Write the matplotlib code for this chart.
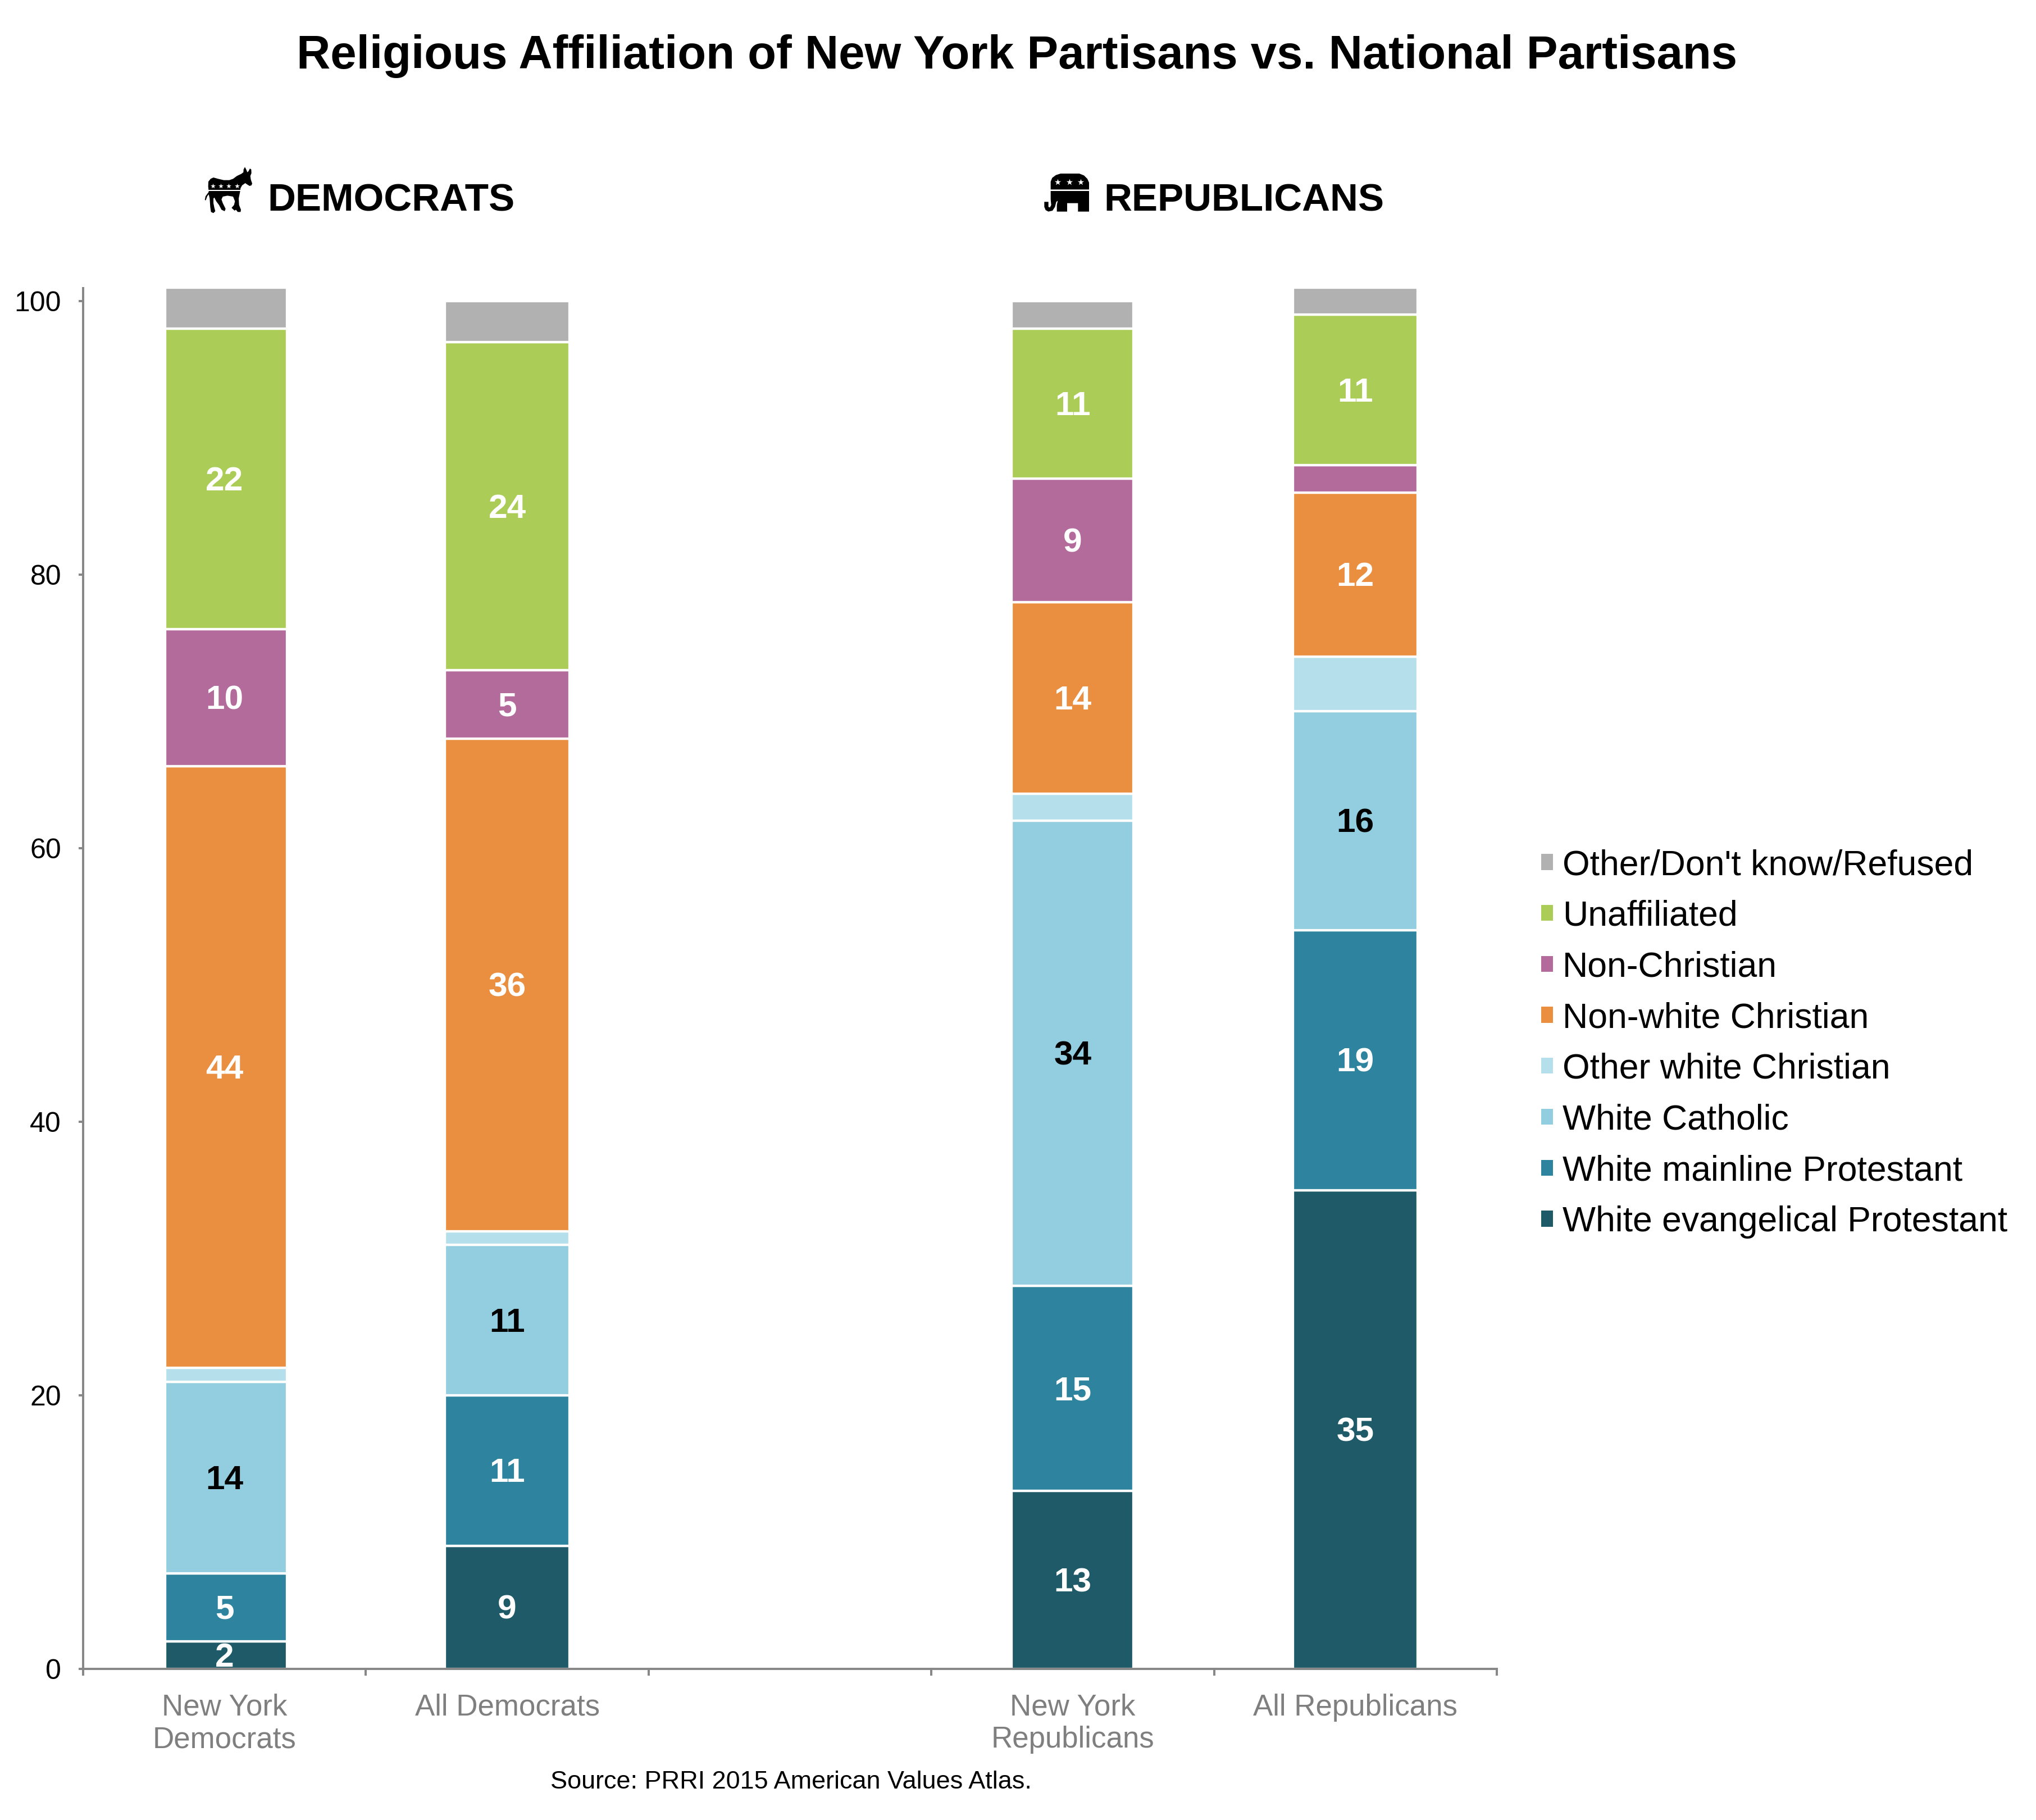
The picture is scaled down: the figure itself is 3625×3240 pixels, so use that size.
import numpy as np
import matplotlib
matplotlib.use('Agg')
import matplotlib.pyplot as plt
from matplotlib.patches import Patch, Polygon

W, H = 3625, 3240
DPI = 300

plt.rcParams['font.family'] = ['Liberation Sans', 'DejaVu Sans']

categories = ['New York\nDemocrats', 'All Democrats', '', 'New York\nRepublicans', 'All Republicans']
series_names = ['White evangelical Protestant', 'White mainline Protestant', 'White Catholic',
                'Other white Christian', 'Non-white Christian', 'Non-Christian',
                'Unaffiliated', "Other/Don't know/Refused"]

# one list per series, same order as categories (the third category is the empty gap)
evangelical = [2, 9, 0, 13, 35]
mainline = [5, 11, 0, 15, 19]
catholic = [14, 11, 0, 34, 16]
other_white = [1, 1, 0, 2, 4]
non_white = [44, 36, 0, 14, 12]
non_christian = [10, 5, 0, 9, 2]
unaffiliated = [22, 24, 0, 11, 11]
other = [3, 3, 0, 2, 2]
series = [evangelical, mainline, catholic, other_white, non_white, non_christian, unaffiliated, other]

colors = ['#1F5A68', '#2E849F', '#93CDE0', '#B5DFEB', '#EA8F40', '#B36B9C', '#ABCD58', '#B0B1B0']
label_colors = ['white', 'white', 'black', 'black', 'white', 'white', 'white', 'black']
bar_widths = [0.431, 0.441, 0.431, 0.431, 0.441]
bar_shift = [0.005, 0, 0, 0, 0]

GREY = '#888888'


def px(p):
    # pixels to points
    return p * 72 / DPI


fig = plt.figure(figsize=(W / DPI, H / DPI), dpi=DPI)
ax = fig.add_axes([148 / W, (H - 2971) / H, 2517 / W, 2458 / H])

x = np.arange(len(categories)) + 0.5
bottom = np.zeros(len(categories))
for name, vals, col, lcol in zip(series_names, series, colors, label_colors):
    vals = np.array(vals)
    ax.bar(x + bar_shift, vals, bar_widths, bottom=bottom, color=col, edgecolor='white', linewidth=px(4.3))
    for xi, v, b in zip(x, vals, bottom):
        # small slices go unlabelled, except the bottom one of the first bar
        if v >= 5 or (name == series_names[0] and v > 0):
            ax.annotate(str(v), (xi, b + v / 2), xytext=(0, -px(5)), textcoords='offset points',
                        ha='center', va='center', color=lcol, fontsize=14.5, fontweight='bold')
    bottom += vals

ax.set_xlim(0, 5)
ax.set_ylim(0, 100.94)
ax.set_yticks(np.arange(0, 101, 20))
ax.set_xticks(np.arange(0, 6))
ax.set_xticklabels([])
ax.set_xticks(x, minor=True)
ax.set_xticklabels(categories, minor=True, fontsize=12.7, color='#7F7F7F', linespacing=1.19)
ax.tick_params(axis='x', which='major', length=px(12), width=px(4), color=GREY)
ax.tick_params(axis='x', which='minor', length=0, pad=px(44))
ax.tick_params(axis='y', length=px(8), width=px(4), color=GREY, pad=px(31), labelsize=12)
for s in ['top', 'right']:
    ax.spines[s].set_visible(False)
for s in ['left', 'bottom']:
    ax.spines[s].set_color(GREY)
    ax.spines[s].set_linewidth(px(4))

# overlay in image pixels for the headings and the party icons
overlay = fig.add_axes([0, 0, 1, 1], zorder=5)
overlay.set_xlim(0, W)
overlay.set_ylim(H, 0)
overlay.axis('off')

overlay.text(1811, 122, 'Religious Affiliation of New York Partisans vs. National Partisans',
             ha='center', va='baseline', fontsize=20, fontweight='bold')
overlay.text(476, 376, 'DEMOCRATS', ha='left', va='baseline', fontsize=16.6, fontweight='bold')
overlay.text(1965, 376, 'REPUBLICANS', ha='left', va='baseline', fontsize=16.6, fontweight='bold')
overlay.text(980, 3184, 'Source: PRRI 2015 American Values Atlas.', ha='left', va='baseline', fontsize=10.8)


def icon(points, x0, y0):
    pts = [(x0 + a / 3, y0 + b / 3) for a, b in points]
    overlay.add_patch(Polygon(pts, closed=True, facecolor='black', edgecolor='none'))


donkey = [(48, 100), (60, 85), (75, 78), (100, 85), (130, 92), (160, 92), (180, 85), (200, 70), (225, 58),
          (235, 50), (236, 35), (243, 22), (250, 35), (256, 50), (262, 45), (270, 30), (277, 35), (278, 55),
          (272, 70), (275, 90), (282, 110), (278, 120), (268, 123), (255, 115), (245, 108), (228, 120),
          (220, 135), (218, 150), (215, 165), (210, 190), (212, 225), (222, 250), (220, 262), (205, 262),
          (195, 250), (188, 255), (172, 240), (185, 225), (190, 205), (180, 180), (150, 175), (125, 180),
          (118, 195), (125, 215), (140, 245), (135, 258), (118, 250), (105, 225), (90, 205), (80, 185),
          (75, 190), (75, 215), (80, 240), (85, 258), (75, 268), (62, 262), (58, 235), (55, 190), (50, 168),
          (42, 178), (34, 200), (29, 198), (33, 178), (50, 155), (47, 125)]
icon(donkey, 355, 290)
overlay.plot([355 + 50 / 3, 355 + 220 / 3], [290 + 148 / 3] * 2, color='white', lw=px(2))
overlay.scatter([355 + a / 3 for a in (72, 113, 155, 200)], [290 + 122 / 3] * 4, marker='*', s=5,
                color='white', linewidths=0, zorder=6)

elephant_top = [(62, 112), (62, 70), (70, 50), (90, 35), (115, 27), (215, 27), (240, 37), (258, 55),
                (267, 75), (267, 112)]
elephant_low = [(62, 120), (267, 120), (267, 230), (208, 230), (208, 185), (150, 185), (150, 230), (95, 230),
                (95, 195), (100, 172), (92, 178), (85, 205), (72, 225), (50, 230), (35, 222), (28, 205),
                (28, 178), (50, 178), (50, 205), (58, 208), (65, 195), (62, 165)]
icon(elephant_top, 1850, 300)
icon(elephant_low, 1850, 300)
overlay.scatter([1850 + a / 3 for a in (100, 162, 222)], [300 + 72 / 3] * 3, marker='*', s=8,
                color='white', linewidths=0, zorder=6)

# legend reads top down, so reverse the stack
handles = [Patch(facecolor=c, edgecolor='none', label=n) for n, c in zip(series_names, colors)][::-1]
overlay.legend(handles=handles, loc='upper left', bbox_to_anchor=(2744, 1511), bbox_transform=overlay.transData,
               frameon=False, borderpad=0, borderaxespad=0, fontsize=15, labelspacing=0.507,
               handlelength=21 / 62.5, handleheight=20 / 62.5, handletextpad=17 / 62.5)

fig.savefig('out.png', dpi=DPI)
